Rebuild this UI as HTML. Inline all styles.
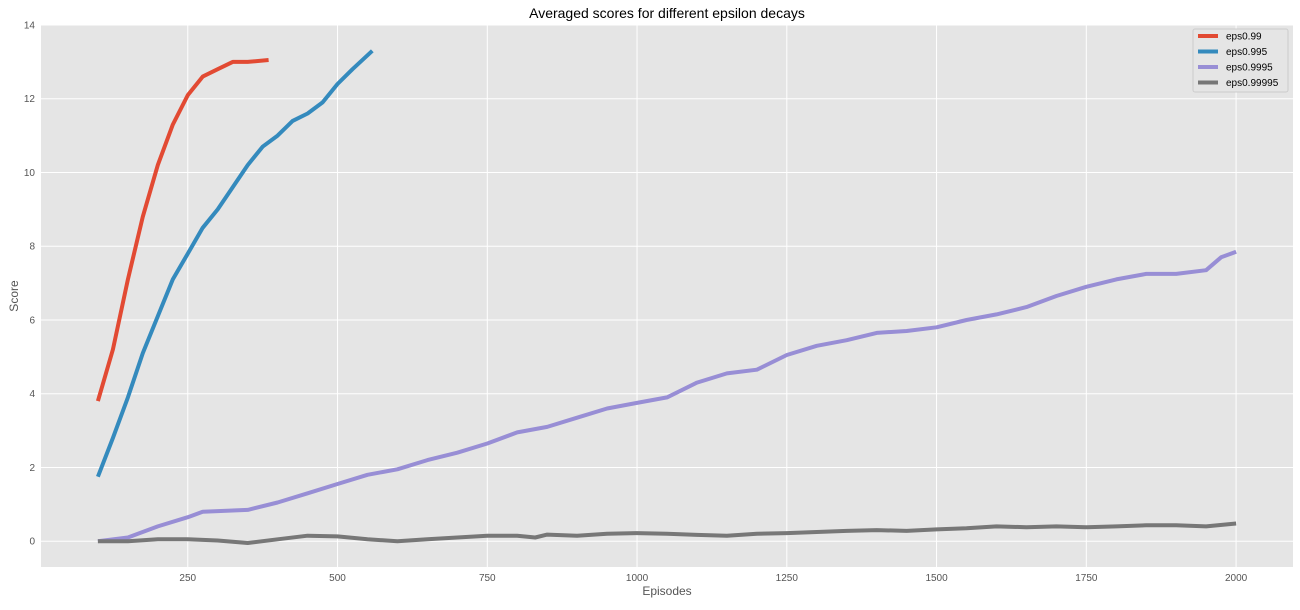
<!DOCTYPE html>
<html><head><meta charset="utf-8"><style>
body{margin:0;background:#fff;font-family:"Liberation Sans","DejaVu Sans",sans-serif}
</style></head><body>
<svg id="chart" width="1300" height="605" xmlns="http://www.w3.org/2000/svg"></svg>
<script>
const xTicks=[250,500,750,1000,1250,1500,1750,2000];
const yTicks=[0,2,4,6,8,10,12,14];
const seriesNames=["eps0.99","eps0.995","eps0.9995","eps0.99995"];
const seriesColors=["#E24A33","#348ABD","#988ED5","#777777"];
const redEp=[100,125,150,175,200,225,250,275,300,325,350,385];
const redVal=[3.8,5.2,7.1,8.8,10.2,11.3,12.1,12.6,12.8,13.0,13.0,13.05];
const blueEp=[100,125,150,175,200,225,250,275,300,325,350,375,400,425,450,475,500,525,558];
const blueVal=[1.75,2.8,3.9,5.1,6.1,7.1,7.8,8.5,9.0,9.6,10.2,10.7,11.0,11.4,11.6,11.9,12.4,12.8,13.3];
const purpleEp=[100,150,200,250,275,350,400,450,500,550,600,650,700,750,800,850,900,950,1000,1050,1100,1150,1200,1250,1300,1350,1400,1450,1500,1550,1600,1650,1700,1750,1800,1850,1900,1950,1975,2000];
const purpleVal=[0,0.1,0.4,0.65,0.8,0.85,1.05,1.3,1.55,1.8,1.95,2.2,2.4,2.65,2.95,3.1,3.35,3.6,3.75,3.9,4.3,4.55,4.65,5.05,5.3,5.45,5.65,5.7,5.8,6.0,6.15,6.35,6.65,6.9,7.1,7.25,7.25,7.35,7.7,7.85];
const grayEp=[100,150,200,250,300,350,400,450,500,550,600,650,700,750,800,830,850,900,950,1000,1050,1100,1150,1200,1250,1300,1350,1400,1450,1500,1550,1600,1650,1700,1750,1800,1850,1900,1950,2000];
const grayVal=[0,0,0.05,0.05,0.02,-0.05,0.05,0.15,0.13,0.05,0,0.05,0.1,0.15,0.15,0.1,0.18,0.15,0.2,0.22,0.2,0.17,0.15,0.2,0.22,0.25,0.28,0.3,0.28,0.32,0.35,0.4,0.38,0.4,0.38,0.4,0.43,0.43,0.4,0.48];

const L=41,R=1293,T=25,B=567;
const X0=5,X1=2095,Y0=-0.7,Y1=14;
const sx=v=>L+(v-X0)/(X1-X0)*(R-L);
const sy=v=>B-(v-Y0)/(Y1-Y0)*(B-T);
const svg=document.getElementById('chart');
const NS='http://www.w3.org/2000/svg';
function mk(tag,attrs,text){const e=document.createElementNS(NS,tag);for(const k in attrs)e.setAttribute(k,attrs[k]);if(text!==undefined)e.textContent=text;svg.appendChild(e);return e;}

let bg=mk('rect',{x:L,y:T,width:R-L,height:B-T,fill:'#E5E5E5'});


xTicks.forEach(t=>{
  let g=mk('line',{x1:sx(t),x2:sx(t),y1:T,y2:B,stroke:'#fff','stroke-width':1});
  
  
  let lb=mk('text',{x:sx(t),y:B+14,'text-anchor':'middle','font-size':10,fill:'#555'},t);
  
  
});
yTicks.forEach(t=>{
  let g=mk('line',{x1:L,x2:R,y1:sy(t),y2:sy(t),stroke:'#fff','stroke-width':1});
  
  
  let lb=mk('text',{x:L-6,y:sy(t)+3.5,'text-anchor':'end','font-size':10,fill:'#555'},t);
  
  
});
const allEp=[redEp,blueEp,purpleEp,grayEp],allVal=[redVal,blueVal,purpleVal,grayVal];
allEp.forEach((ep,i)=>{
  const d=ep.map((e,j)=>(j?'L':'M')+sx(e).toFixed(1)+','+sy(allVal[i][j]).toFixed(1)).join(' ');
  let p=mk('path',{d:d,fill:'none',stroke:seriesColors[i],'stroke-width':4,'stroke-linejoin':'round'});
  
  
});
let title=mk('text',{x:(L+R)/2,y:18,'text-anchor':'middle','font-size':14,fill:'#000'},'Averaged scores for different epsilon decays');


let xl=mk('text',{x:(L+R)/2,y:595,'text-anchor':'middle','font-size':12,fill:'#555'},'Episodes');


let yl=mk('text',{x:18,y:(T+B)/2,'text-anchor':'middle','font-size':12,fill:'#555',transform:'rotate(-90 18 '+(T+B)/2+')'},'Score');


let lg=mk('rect',{x:1193,y:29,width:95,height:63,fill:'#E5E5E5',stroke:'#ccc','stroke-width':1,rx:2});


seriesNames.forEach((n,i)=>{
  const y=36+i*15.5;
  let s=mk('line',{x1:1198,x2:1218,y1:y,y2:y,stroke:seriesColors[i],'stroke-width':4});
  
  
  let t=mk('text',{x:1226,y:y+3.5,'font-size':10,fill:'#000'},n);
  
  
});
</script>
</body></html>
